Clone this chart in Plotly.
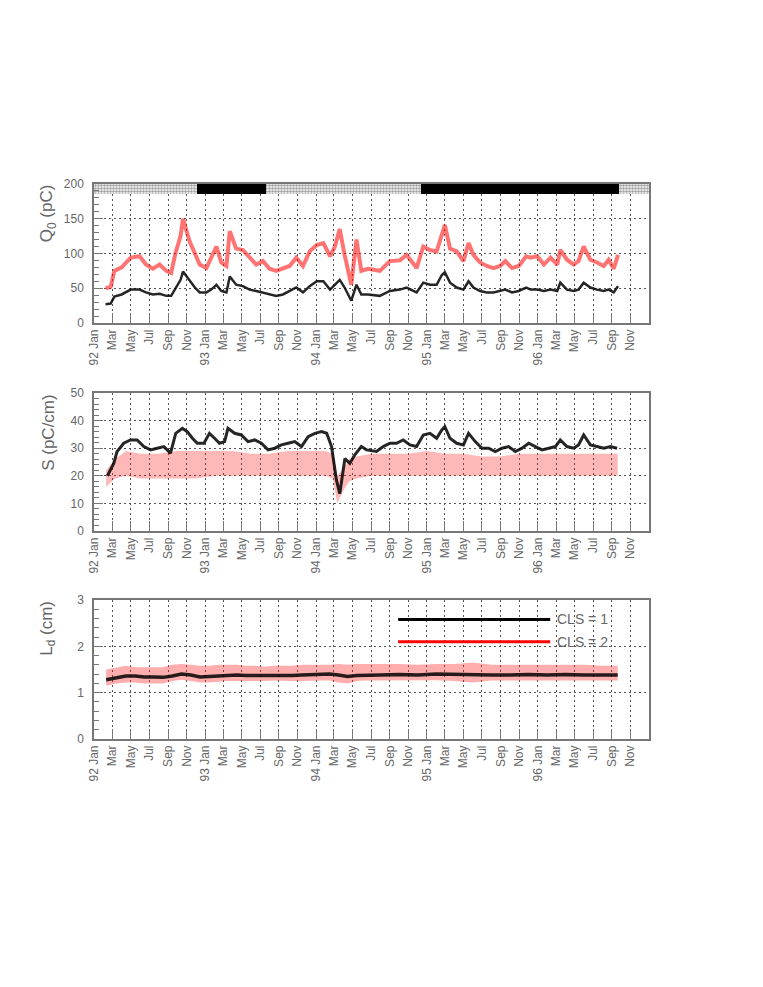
import pandas as pd
import plotly.graph_objects as go

# Q0 (pC) read along the two tracks of the first panel
q_dates = ['1992-02-08', '1992-02-25', '1992-03-08', '1992-04-01', '1992-05-01', '1992-05-30',
           '1992-06-20', '1992-07-13', '1992-08-04', '1992-08-26', '1992-09-11', '1992-09-25',
           '1992-10-12', '1992-10-20', '1992-11-11', '1992-11-28', '1992-12-14', '1993-01-05',
           '1993-01-21', '1993-02-07', '1993-02-23', '1993-03-12', '1993-03-23', '1993-04-13',
           '1993-05-05', '1993-05-27', '1993-06-18', '1993-07-10', '1993-08-01', '1993-08-23',
           '1993-09-14', '1993-10-06', '1993-10-28', '1993-11-19', '1993-12-11', '1994-01-03',
           '1994-01-25', '1994-02-16', '1994-03-04', '1994-03-20', '1994-04-05', '1994-04-27',
           '1994-05-14', '1994-05-30', '1994-06-21', '1994-07-30', '1994-09-01', '1994-10-04',
           '1994-10-26', '1994-11-11', '1994-11-28', '1994-12-20', '1995-01-11', '1995-02-02',
           '1995-02-19', '1995-03-01', '1995-03-18', '1995-04-09', '1995-05-01', '1995-05-18',
           '1995-06-03', '1995-06-25', '1995-07-17', '1995-08-08', '1995-08-30', '1995-09-16',
           '1995-10-08', '1995-10-30', '1995-11-24', '1995-12-08', '1995-12-30', '1996-01-21',
           '1996-02-12', '1996-03-05', '1996-03-15', '1996-04-06', '1996-04-28', '1996-05-14',
           '1996-05-31', '1996-06-22', '1996-07-14', '1996-08-05', '1996-08-21', '1996-09-07',
           '1996-09-21']
q_cls1 = [27, 28, 38, 41, 48, 48, 44, 41, 42, 39, 39, 50,
          62, 74, 60, 51, 44, 44, 48, 55, 46, 44, 67, 55,
          53, 48, 46, 44, 41, 39, 41, 46, 51, 44, 53, 60,
          60, 48, 55, 62, 51, 32, 55, 41, 41, 39, 46, 48,
          51, 48, 44, 58, 55, 55, 69, 73, 58, 51, 48, 60,
          51, 46, 44, 44, 46, 48, 44, 46, 51, 48, 48, 46,
          48, 46, 58, 48, 46, 48, 58, 51, 48, 46, 48, 44,
          53]
q_cls2 = [50, 52, 75, 80, 94, 96, 84, 78, 84, 75, 72, 100,
          125, 150, 117, 98, 84, 79, 94, 110, 87, 82, 132, 107,
          105, 94, 84, 89, 78, 75, 78, 82, 94, 82, 103, 112,
          115, 96, 110, 135, 98, 55, 120, 75, 78, 75, 89, 90,
          98, 89, 79, 110, 105, 103, 130, 141, 107, 103, 89, 115,
          98, 87, 82, 79, 82, 89, 79, 82, 96, 94, 96, 84,
          94, 84, 105, 91, 84, 89, 110, 91, 87, 82, 91, 78,
          98]

# S (pC/cm), CLS = 1 track
s_dates = ['1992-02-14', '1992-03-06', '1992-03-17', '1992-04-08', '1992-04-30', '1992-05-22',
           '1992-06-13', '1992-07-05', '1992-07-27', '1992-08-18', '1992-09-09', '1992-09-26',
           '1992-10-18', '1992-11-03', '1992-11-20', '1992-12-06', '1992-12-28', '1993-01-15',
           '1993-02-01', '1993-02-17', '1993-03-06', '1993-03-17', '1993-04-08', '1993-04-30',
           '1993-05-22', '1993-06-13', '1993-07-05', '1993-07-27', '1993-08-18', '1993-09-09',
           '1993-10-01', '1993-10-23', '1993-11-14', '1993-12-06', '1993-12-28', '1994-01-19',
           '1994-02-05', '1994-02-21', '1994-03-09', '1994-03-20', '1994-04-06', '1994-04-22',
           '1994-05-08', '1994-05-30', '1994-06-16', '1994-07-19', '1994-08-10', '1994-09-01',
           '1994-09-23', '1994-10-15', '1994-11-06', '1994-11-28', '1994-12-20', '1995-01-11',
           '1995-02-02', '1995-02-19', '1995-03-01', '1995-03-18', '1995-04-09', '1995-05-01',
           '1995-05-18', '1995-06-09', '1995-07-01', '1995-07-23', '1995-08-14', '1995-09-05',
           '1995-09-27', '1995-10-19', '1995-11-10', '1995-12-02', '1995-12-24', '1996-01-15',
           '1996-02-06', '1996-02-28', '1996-03-15', '1996-04-06', '1996-04-28', '1996-05-14',
           '1996-05-31', '1996-06-22', '1996-07-14', '1996-08-05', '1996-08-27', '1996-09-18']
s_cls1 = [20, 24.5, 28.8, 31.8, 33, 33, 30.6, 29.4, 30, 30.6, 28.2, 35.4,
          37.2, 36, 33.6, 31.8, 31.8, 35.4, 33.6, 31.8, 32.4, 37.2, 35.4, 34.8,
          32.4, 33, 31.8, 29.4, 30, 31.2, 31.8, 32.4, 30.6, 34.2, 35.4, 36,
          35.4, 30.6, 18.5, 13.5, 26.3, 24.5, 27.5, 30.6, 29.4, 28.8, 30.6, 31.8,
          31.8, 33, 31.2, 30.6, 34.8, 35.4, 33.6, 36.6, 37.8, 33.6, 31.8, 31.2,
          35.4, 32.4, 30, 30, 28.8, 30, 30.6, 28.8, 30, 31.8, 30.6, 29.4,
          30, 30.6, 33, 30.6, 30, 31.2, 34.8, 31.2, 30.6, 30, 30.6, 30]

# S (pC/cm), CLS = 2 cloud: lower and upper edge of the dense part
s2_dates = ['1992-02-10', '1992-03-10', '1992-04-15', '1992-06-01', '1992-08-01', '1992-10-01',
            '1992-12-01', '1993-02-01', '1993-04-01', '1993-06-01', '1993-08-01', '1993-10-01',
            '1993-12-01', '1994-02-01', '1994-02-25', '1994-03-12', '1994-03-28', '1994-04-20',
            '1994-05-15', '1994-07-01', '1994-09-01', '1994-11-01', '1995-01-01', '1995-03-01',
            '1995-05-01', '1995-07-01', '1995-09-01', '1995-11-01', '1996-01-01', '1996-03-01',
            '1996-05-01', '1996-07-01', '1996-09-20']
s_cls2_low = [16, 19, 20, 19, 19, 19, 19, 20, 20, 20, 20, 20,
              20, 20, 19, 10, 14, 18, 19, 20, 20, 20, 20, 20,
              20, 20, 20, 20, 20, 20, 20, 20, 20]
s_cls2_high = [22, 26, 29, 28, 28, 29, 29, 29, 29, 28, 28, 29,
               29, 29, 28, 20, 22, 26, 27, 28, 28, 28, 29, 28,
               28, 27, 27, 28, 28, 28, 28, 28, 28]

# Ld (cm), CLS = 1 track and CLS = 2 band
l_dates = ['1992-02-10', '1992-03-15', '1992-04-15', '1992-05-15', '1992-06-15', '1992-07-15',
           '1992-08-15', '1992-09-15', '1992-10-15', '1992-11-15', '1992-12-15', '1993-01-15',
           '1993-02-15', '1993-03-15', '1993-04-15', '1993-05-15', '1993-06-15', '1993-07-15',
           '1993-08-15', '1993-09-15', '1993-10-15', '1993-11-15', '1993-12-15', '1994-01-15',
           '1994-02-15', '1994-03-15', '1994-04-15', '1994-05-15', '1994-06-15', '1994-08-01',
           '1994-10-01', '1994-12-01', '1995-02-01', '1995-04-01', '1995-06-01', '1995-08-01',
           '1995-10-01', '1995-12-01', '1996-02-01', '1996-04-01', '1996-06-01', '1996-08-01',
           '1996-09-20']
l_cls1 = [1.28, 1.32, 1.36, 1.36, 1.34, 1.34, 1.33, 1.36, 1.40, 1.38, 1.34, 1.35,
          1.36, 1.38, 1.38, 1.37, 1.37, 1.36, 1.37, 1.36, 1.37, 1.38, 1.39, 1.40,
          1.40, 1.38, 1.35, 1.37, 1.38, 1.38, 1.39, 1.38, 1.40, 1.39, 1.38, 1.38,
          1.38, 1.39, 1.38, 1.39, 1.38, 1.37, 1.38]
l_cls2_low = [1.15, 1.2, 1.22, 1.22, 1.2, 1.2, 1.2, 1.25, 1.28, 1.25, 1.22, 1.22,
              1.24, 1.25, 1.25, 1.25, 1.24, 1.25, 1.26, 1.25, 1.25, 1.25, 1.26, 1.26,
              1.26, 1.22, 1.2, 1.25, 1.26, 1.26, 1.27, 1.26, 1.27, 1.25, 1.22, 1.26,
              1.26, 1.26, 1.27, 1.27, 1.26, 1.26, 1.26]
l_cls2_high = [1.5, 1.55, 1.58, 1.55, 1.55, 1.55, 1.55, 1.6, 1.62, 1.6, 1.58, 1.58,
               1.6, 1.6, 1.6, 1.58, 1.58, 1.56, 1.58, 1.58, 1.58, 1.6, 1.6, 1.6,
               1.6, 1.62, 1.6, 1.62, 1.62, 1.62, 1.62, 1.6, 1.62, 1.62, 1.65, 1.6,
               1.6, 1.6, 1.6, 1.6, 1.6, 1.58, 1.58]

# strip above the first panel: dotted = off periods, black = running periods
period_start = ['1992-01-01', '1992-12-06', '1993-07-19', '1994-12-14', '1996-09-23']
period_end = ['1992-12-06', '1993-07-19', '1994-12-14', '1996-09-23', '1997-01-01']
period_on = [False, True, False, True, False]

tick_dates = list(pd.date_range('1992-01-01', '1996-11-01', freq='2MS'))
tick_text = ['92 Jan', 'Mar', 'May', 'Jul', 'Sep', 'Nov',
             '93 Jan', 'Mar', 'May', 'Jul', 'Sep', 'Nov',
             '94 Jan', 'Mar', 'May', 'Jul', 'Sep', 'Nov',
             '95 Jan', 'Mar', 'May', 'Jul', 'Sep', 'Nov',
             '96 Jan', 'Mar', 'May', 'Jul', 'Sep', 'Nov']

RED = 'rgba(255,0,0,0.55)'
BLACK = 'rgba(0,0,0,0.85)'
GREY = '#666666'
AXIS = '#777777'

fig = go.Figure()

# strip of running periods
starts = pd.to_datetime(period_start)
ends = pd.to_datetime(period_end)
for s, e, on in zip(starts, ends, period_on):
    fig.add_trace(go.Bar(
        x=[s + (e - s) / 2], y=[14], base=[186],
        width=[(e - s).total_seconds() * 1000],
        marker=dict(color='black' if on else 'white', line=dict(width=0),
                    pattern=dict(shape='' if on else '.', fgcolor='#444444',
                                 bgcolor='white', size=3, solidity=0.6)),
        showlegend=False, hoverinfo='skip', xaxis='x', yaxis='y'))

fig.add_trace(go.Scatter(x=q_dates, y=q_cls2, mode='lines',
                         line=dict(color=RED, width=4), xaxis='x', yaxis='y', showlegend=False))
fig.add_trace(go.Scatter(x=q_dates, y=q_cls1, mode='lines',
                         line=dict(color=BLACK, width=2.5), xaxis='x', yaxis='y', showlegend=False))

fig.add_trace(go.Scatter(x=s2_dates, y=s_cls2_low, mode='lines', line=dict(width=0, color=RED),
                         xaxis='x2', yaxis='y2', showlegend=False))
fig.add_trace(go.Scatter(x=s2_dates, y=s_cls2_high, mode='lines', line=dict(width=0, color=RED),
                         fill='tonexty', fillcolor='rgba(255,0,0,0.28)',
                         xaxis='x2', yaxis='y2', showlegend=False))
fig.add_trace(go.Scatter(x=s_dates, y=s_cls1, mode='lines',
                         line=dict(color=BLACK, width=3), xaxis='x2', yaxis='y2', showlegend=False))

fig.add_trace(go.Scatter(x=l_dates, y=l_cls2_low, mode='lines', line=dict(width=0, color=RED),
                         xaxis='x3', yaxis='y3', showlegend=False))
fig.add_trace(go.Scatter(x=l_dates, y=l_cls2_high, mode='lines', line=dict(width=0, color=RED),
                         fill='tonexty', fillcolor='rgba(255,0,0,0.32)',
                         xaxis='x3', yaxis='y3', showlegend=False))
fig.add_trace(go.Scatter(x=l_dates, y=l_cls1, mode='lines',
                         line=dict(color=BLACK, width=3.5), xaxis='x3', yaxis='y3', showlegend=False))

# the page puts the figure 8 px in from the top left corner
xdom = [0.1127, 0.8401]
ydoms = [[0.6809, 0.8217], [0.4701, 0.6099], [0.2594, 0.4002]]
GRID = dict(showgrid=True, gridcolor='#555555', griddash='2px,3px', gridwidth=1)


def x_axis(anchor):
    return dict(type='date', range=['1992-01-01', '1997-01-01'], domain=xdom, anchor=anchor,
                tickvals=tick_dates, ticktext=tick_text, tickangle=-90,
                ticks='inside', ticklen=10, tickcolor=AXIS, **GRID,
                showline=True, linecolor=AXIS, linewidth=1.5, mirror=True,
                zeroline=False, tickfont=dict(size=12, color=GREY), automargin=False)


def y_axis(anchor, dom, rng, dtick, minor):
    return dict(domain=dom, anchor=anchor, range=rng, dtick=dtick,
                ticks='inside', ticklen=9, tickcolor=AXIS, **GRID,
                minor=dict(dtick=minor, ticks='inside', ticklen=5, tickcolor=AXIS, showgrid=False),
                showline=True, linecolor=AXIS, linewidth=1.5, mirror=True,
                zeroline=False, tickfont=dict(size=12, color=GREY), ticklabelstandoff=6,
                automargin=False)


fig.update_layout(
    width=763, height=987,
    margin=dict(l=0, r=0, t=0, b=0),
    paper_bgcolor='white', plot_bgcolor='white',
    font=dict(family='Liberation Sans, Arial, sans-serif', color=GREY),
    barmode='overlay', bargap=0,
    xaxis=x_axis('y'), xaxis2=x_axis('y2'), xaxis3=x_axis('y3'),
    yaxis=y_axis('x', ydoms[0], [0, 200], 50, 10),
    yaxis2=y_axis('x2', ydoms[1], [0, 50], 10, 2),
    yaxis3=y_axis('x3', ydoms[2], [0, 3], 1, 0.2),
)

# axis titles sit at the top end of each y axis
y_titles = [('y', 'Q<sub>0</sub> (pC)'), ('y2', 'S (pC/cm)'), ('y3', 'L<sub>d</sub> (cm)')]
for ax, text in y_titles:
    fig.add_annotation(xref='paper', yref=ax + ' domain', x=0.052, y=1.01, text=text,
                       textangle=-90, showarrow=False, xanchor='center', yanchor='top',
                       font=dict(size=17, color=GREY))

# legend drawn inside the third panel
legend_items = [('CLS = 1', 'black', 0.86), ('CLS = 2', 'red', 0.70)]
for label, col, ypos in legend_items:
    fig.add_shape(type='line', xref='x3 domain', yref='y3 domain',
                  x0=0.548, x1=0.822, y0=ypos, y1=ypos, line=dict(color=col, width=3))
    fig.add_annotation(xref='x3 domain', yref='y3 domain', x=0.83, y=ypos, text=label,
                       showarrow=False, xanchor='left', yanchor='middle',
                       font=dict(size=14, color=GREY))

fig.write_html("out.html")
